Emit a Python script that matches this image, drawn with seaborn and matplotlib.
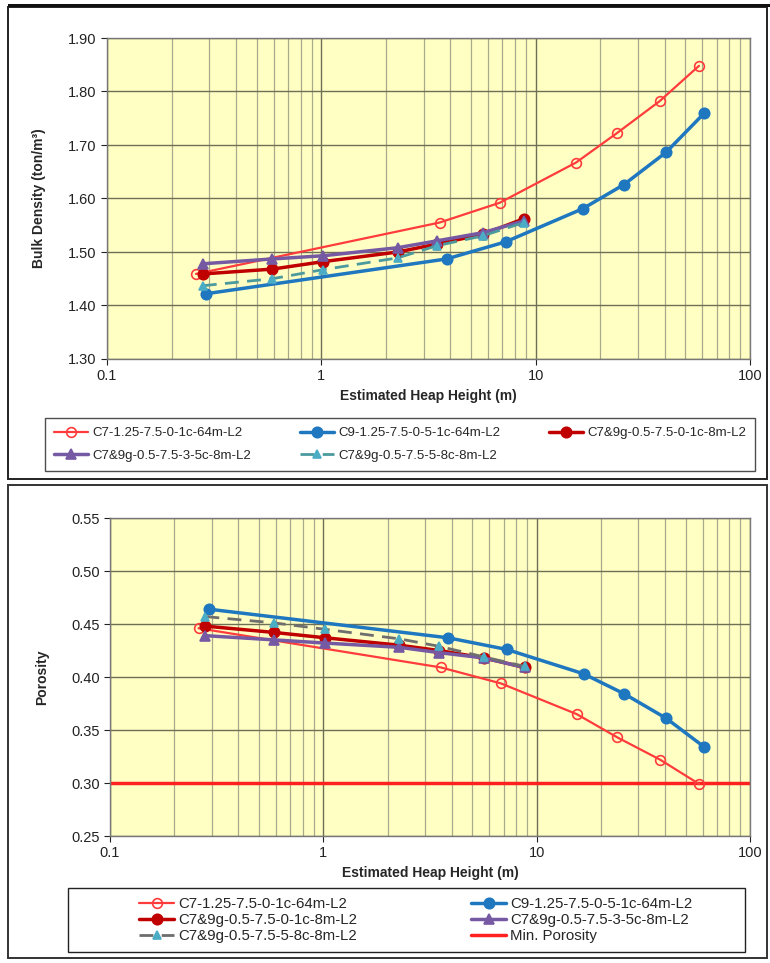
import matplotlib
matplotlib.use("Agg")
import matplotlib.pyplot as plt
import seaborn as sns
import numpy as np
from matplotlib.patches import Rectangle
from matplotlib.ticker import FixedLocator, FixedFormatter, LogLocator, NullFormatter

# ---------------- data ----------------
labels = ["C7-1.25-7.5-0-1c-64m-L2", "C9-1.25-7.5-0-5-1c-64m-L2",
          "C7&9g-0.5-7.5-0-1c-8m-L2", "C7&9g-0.5-7.5-3-5c-8m-L2",
          "C7&9g-0.5-7.5-5-8c-8m-L2"]
min_porosity_label = "Min. Porosity"

heights_c7 = [0.26, 3.56, 6.79, 15.4, 23.9, 37.9, 57.8]
bd_c7 = [1.459, 1.555, 1.592, 1.667, 1.722, 1.782, 1.848]
por_c7 = [0.446, 0.409, 0.394, 0.365, 0.343, 0.322, 0.299]

heights_c9 = [0.29, 3.84, 7.24, 16.6, 25.8, 40.5, 61.0]
bd_c9 = [1.422, 1.487, 1.519, 1.581, 1.626, 1.686, 1.759]
por_c9 = [0.464, 0.437, 0.426, 0.403, 0.384, 0.361, 0.334]

heights_8m = [0.28, 0.59, 1.02, 2.27, 3.48, 5.65, 8.79]
bd_0_1c = [1.459, 1.468, 1.482, 1.500, 1.515, 1.533, 1.562]
bd_3_5c = [1.478, 1.487, 1.493, 1.508, 1.521, 1.536, 1.558]
bd_5_8c = [1.437, 1.450, 1.467, 1.489, 1.512, 1.530, 1.555]
por_0_1c = [0.448, 0.442, 0.437, 0.430, 0.425, 0.418, 0.409]
por_3_5c = [0.439, 0.435, 0.432, 0.428, 0.423, 0.418, 0.409]
por_5_8c = [0.457, 0.451, 0.445, 0.436, 0.429, 0.419, 0.410]

min_porosity = 0.30

x_ticks = [0.1, 1, 10, 100]
x_ticklabels = ["0.1", "1", "10", "100"]
bd_ticks = [1.30, 1.40, 1.50, 1.60, 1.70, 1.80, 1.90]
por_ticks = [0.25, 0.30, 0.35, 0.40, 0.45, 0.50, 0.55]

# ---------------- style ----------------
sns.set_theme(style="white")
plt.rcParams['font.family'] = ['Liberation Sans', 'DejaVu Sans']

W, H = 770, 963
fig = plt.figure(figsize=(W / 100, H / 100), dpi=100)

def fx(px):
    return px / W

def fy(py):
    return 1 - py / H

# panel frames
fig.patches.append(Rectangle((fx(8), fy(479)), fx(759), 472 / H, transform=fig.transFigure,
                             fill=False, edgecolor="#222222", linewidth=1.4))
fig.patches.append(Rectangle((fx(8), fy(958)), fx(759), 473 / H, transform=fig.transFigure,
                             fill=False, edgecolor="#333333", linewidth=1.4))
fig.patches.append(Rectangle((fx(8), fy(7)), fx(762), 2.5 / H, transform=fig.transFigure,
                             fill=True, facecolor="#111111", edgecolor="none"))

ax1 = fig.add_axes([fx(107), fy(359), (750 - 107) / W, (359 - 38) / H])
ax2 = fig.add_axes([fx(110), fy(836), (750 - 110) / W, (836 - 518) / H])

RED = "#FF3B3B"
BLUE = "#1F77C0"
DRED = "#C00000"
PURPLE = "#7559A3"
TEAL = "#4BACC6"
TEAL_LINE_TOP = "#4A9A9E"
GRAY_DASH = "#6E6E6E"

def style_axes(ax, yticks, ylabel):
    ax.set_facecolor("#FFFFC4")
    ax.set_xscale("log")
    ax.set_xlim(0.1, 100)
    ax.set_ylim(yticks[0], yticks[-1])
    ax.xaxis.set_major_locator(FixedLocator(x_ticks))
    ax.xaxis.set_major_formatter(FixedFormatter(x_ticklabels))
    ax.xaxis.set_minor_locator(LogLocator(base=10, subs=np.arange(2, 10)))
    ax.xaxis.set_minor_formatter(NullFormatter())
    ax.set_yticks(yticks)
    ax.set_yticklabels([f"{v:.2f}" for v in yticks])
    ax.grid(True, which="major", axis="both", color="#6F6F55", linewidth=1.0)
    ax.grid(True, which="minor", axis="x", color="#A8A88A", linewidth=0.9)
    ax.set_axisbelow(True)
    for s in ax.spines.values():
        s.set_color("#777777")
        s.set_linewidth(1.0)
    ax.tick_params(axis="both", which="major", labelsize=10.5, colors="#222222",
                   length=4, direction="out", left=True, bottom=True, width=0.8)
    ax.tick_params(axis="x", which="minor", length=0)
    ax.set_xlabel("Estimated Heap Height (m)", fontsize=10, fontweight="bold", labelpad=4)
    ax.set_ylabel(ylabel, fontsize=10, fontweight="bold", labelpad=16)

def series(ax, x, y, color, marker, mfc, lw, ms, ls="-", mec=None, label=None):
    sns.lineplot(x=x, y=y, ax=ax, color=color, marker=marker, markerfacecolor=mfc,
                 markeredgecolor=mec if mec else color, linewidth=lw, markersize=ms,
                 linestyle=ls, label=label, sort=True, estimator=None, legend=False,
                 markeredgewidth=1.2)
    return ax.lines[-1]

# ---- top chart ----
h = []
h.append(series(ax1, heights_c7, bd_c7, RED, "o", "none", 1.6, 7, label=labels[0]))
h.append(series(ax1, heights_c9, bd_c9, BLUE, "o", BLUE, 2.5, 7.5, label=labels[1]))
h.append(series(ax1, heights_8m, bd_0_1c, DRED, "o", DRED, 2.5, 7.5, label=labels[2]))
h.append(series(ax1, heights_8m, bd_3_5c, PURPLE, "^", PURPLE, 2.5, 7, label=labels[3]))
h.append(series(ax1, heights_8m, bd_5_8c, TEAL_LINE_TOP, "^", TEAL, 2.0, 6, ls=(0, (5, 3)),
                mec=TEAL, label=labels[4]))
style_axes(ax1, bd_ticks, "Bulk Density (ton/m³)")

order1 = [0, 3, 1, 4, 2]
leg1 = fig.legend([h[i] for i in order1], [labels[i] for i in order1],
                  loc="center", bbox_to_anchor=(fx(38), fy(476), 724 / W, 63 / H),
                  mode="expand", ncol=3, fontsize=9.5, frameon=True, fancybox=False,
                  handlelength=2.6, handletextpad=0.3, borderpad=0.7, labelspacing=0.8,
                  columnspacing=1.0)
leg1.get_frame().set_edgecolor("#222222")
leg1.get_frame().set_linewidth(1.0)

# ---- bottom chart ----
g = []
g.append(series(ax2, heights_c7, por_c7, RED, "o", "none", 1.6, 7, label=labels[0]))
g.append(series(ax2, heights_c9, por_c9, BLUE, "o", BLUE, 2.5, 7.5, label=labels[1]))
g.append(series(ax2, heights_8m, por_0_1c, DRED, "o", DRED, 2.5, 7.5, label=labels[2]))
g.append(series(ax2, heights_8m, por_3_5c, PURPLE, "^", PURPLE, 2.5, 7, label=labels[3]))
g.append(series(ax2, heights_8m, por_5_8c, GRAY_DASH, "^", TEAL, 2.0, 6, ls=(0, (5, 3)),
                mec=TEAL, label=labels[4]))
mp = ax2.axhline(min_porosity, color="#FF2020", linewidth=2.5, zorder=1.5, label=min_porosity_label)
style_axes(ax2, por_ticks, "Porosity")

# bottom legend box drawn separately, entries centred inside it
fig.patches.append(Rectangle((fx(68), fy(952)), 677 / W, 64 / H, transform=fig.transFigure,
                             fill=True, facecolor="white", edgecolor="#222222", linewidth=1.0))
all2 = g + [mp]
labels2 = labels + [min_porosity_label]
order2 = [0, 2, 4, 1, 3, 5]
leg2 = fig.legend([all2[i] for i in order2], [labels2[i] for i in order2],
                  loc="center", bbox_to_anchor=(fx(416), fy(920)),
                  ncol=2, fontsize=10.8, frameon=False,
                  handlelength=2.3, handletextpad=0.3, borderpad=0.2, labelspacing=0.15,
                  columnspacing=7.6)

fig.savefig("out.png", dpi=100)
